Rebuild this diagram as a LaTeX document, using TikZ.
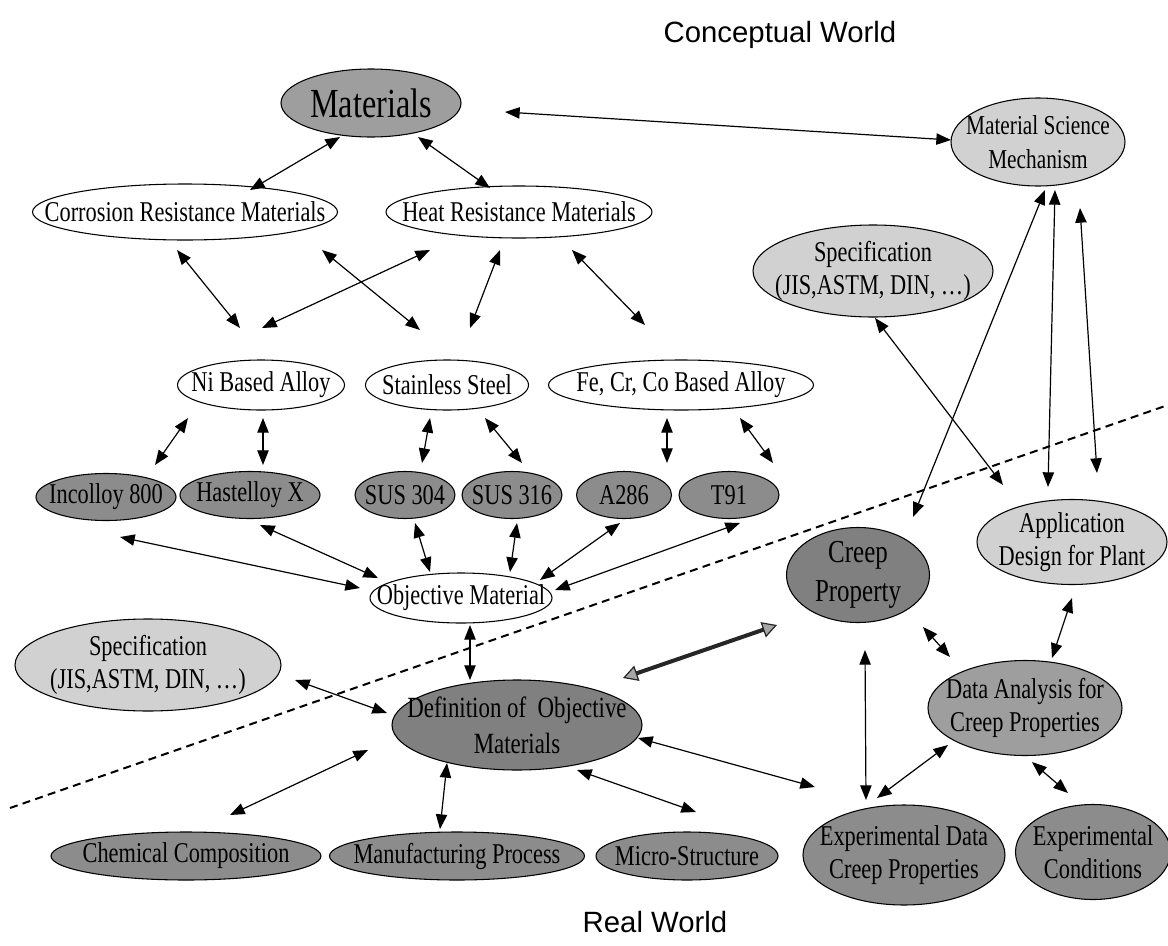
\documentclass[tikz,border=0pt]{standalone}
\usepackage{fontspec}
\setmainfont{Liberation Serif}[FakeStretch=0.78]
\newfontfamily\titlefont{Liberation Sans}
\usetikzlibrary{arrows.meta,shapes.geometric}
\definecolor{dk}{gray}{0.55}
\definecolor{md}{gray}{0.62}
\definecolor{lt}{gray}{0.82}
\definecolor{cr}{gray}{0.50}
\begin{document}
\begin{tikzpicture}[x=0.75pt,y=-0.75pt,
  ell/.style={ellipse, draw=black, line width=0.8pt, inner sep=0pt},
  wh/.style 2 args={minimum width=#1*0.75pt, minimum height=#2*0.75pt},
  lbl/.style={align=center, inner sep=0pt, font=\fontsize{21.5}{25}\selectfont},
  arr/.style={{Triangle[length=11pt,width=8.5pt]}-{Triangle[length=11pt,width=8.5pt]}, line width=0.9pt},
  tharr/.style={{Triangle[length=11pt,width=12pt,fill=black!35,line width=0.9pt]}-{Triangle[length=11pt,width=12pt,fill=black!35,line width=0.9pt]}, line width=3pt, draw=black!85},
  divider/.style={line width=1.5pt, dash pattern=on 6pt off 4pt},
  ttl/.style={font=\titlefont\fontsize{22}{26}\selectfont, inner sep=0pt}
]
\useasboundingbox (0,0) rectangle (1168,946);

% titles
\node[ttl] (cw) at (780,35) {Conceptual World};
\node[ttl] (rw) at (655,922) {Real World};

% divider
\coordinate (dA) at (10,808);
\coordinate (dB) at (1168,405);
\draw[divider] (dA) -- (dB);

% nodes
\node[ell, fill=md, wh={180}{68}, label={[lbl, font=\fontsize{31}{34}\selectfont]center:Materials}] (mat) at (371,103) {};
\node[ell, fill=lt, wh={174}{88}, label={[lbl, font=\fontsize{20.5}{25}\selectfont]center:{Material Science\\Mechanism}}] (msm) at (1038,142) {};
\node[ell, fill=white, wh={305}{56}, label={[lbl]center:Corrosion Resistance Materials}] (corr) at (185,212) {};
\node[ell, fill=white, wh={266}{52}, label={[lbl]center:Heat Resistance Materials}] (heat) at (519,212) {};
\node[ell, fill=white, wh={167}{50}, label={[lbl]center:Ni Based Alloy}] (ni) at (261,385) {};
\node[ell, fill=white, wh={163}{50}, label={[lbl]center:Stainless Steel}] (ss) at (447,385) {};
\node[ell, fill=white, wh={265}{50}, label={[lbl]center:{Fe, Cr, Co Based Alloy}}] (fe) at (681,385) {};
\node[ell, fill=dk, wh={140}{47}, label={[lbl]center:Incolloy 800}] (inc) at (106,497) {};
\node[ell, fill=dk, wh={140}{47}, label={[lbl]center:Hastelloy X}] (has) at (250,495) {};
\node[ell, fill=dk, wh={100}{47}, label={[lbl]center:SUS 304}] (s304) at (405,495) {};
\node[ell, fill=dk, wh={100}{47}, label={[lbl]center:SUS 316}] (s316) at (512,495) {};
\node[ell, fill=dk, wh={95}{47}, label={[lbl]center:A286}] (a286) at (624,495) {};
\node[ell, fill=dk, wh={100}{47}, label={[lbl]center:T91}] (t91) at (729,495) {};
\node[ell, fill=white, wh={182}{50}, label={[lbl]center:Objective Material}] (obj) at (461,598) {};
\node[ell, fill=lt, wh={266}{92}, label={[lbl]center:{Specification\\(JIS,ASTM, DIN, \dots)}}] (specL) at (148,665) {};
\node[ell, fill=lt, wh={240}{92}, label={[lbl]center:{Specification\\(JIS,ASTM, DIN, \dots)}}] (specR) at (873,271) {};
\node[ell, fill=lt, wh={190}{85}, label={[lbl]center:{Application\\Design for Plant}}] (app) at (1072,542) {};
\node[ell, fill=cr, wh={143}{95}, label={[lbl, font=\fontsize{24}{29}\selectfont]center:{Creep\\Property}}] (creep) at (858,575) {};
\node[ell, fill=md, wh={194}{95}, label={[lbl]center:{Data Analysis for\\Creep Properties}}] (data) at (1025,708) {};
\node[ell, fill=cr, wh={250}{90}, label={[lbl, font=\fontsize{22}{27}\selectfont]center:{Definition of \ Objective\\Materials}}] (defn) at (517,725) {};
\node[ell, fill=dk, wh={270}{48}, label={[lbl]center:Chemical Composition}] (chem) at (186,856) {};
\node[ell, fill=dk, wh={255}{48}, label={[lbl]center:Manufacturing Process}] (manu) at (457,856) {};
\node[ell, fill=dk, wh={182}{48}, label={[lbl]center:Micro-Structure}] (micro) at (687,856) {};
\node[ell, fill=dk, wh={202}{100}, label={[lbl]center:{Experimental Data\\Creep Properties}}] (expd) at (904,855) {};
\node[ell, fill=dk, wh={155}{95}, label={[lbl]center:{Experimental\\Conditions}}] (expc) at (1093,852) {};

% connectors
\draw[arr] ([shift={(65,-22)}]corr.center) -- ([shift={(-31,34)}]mat.center);
\draw[arr] ([shift={(47,34)}]mat.center) -- ([shift={(-29,-24)}]heat.center);
\draw[arr] ([shift={(134,9)}]mat.center) -- ([shift={(-87,-2)}]msm.center);
\draw[arr] ([shift={(-8,38)}]corr.center) -- ([shift={(-21,-57)}]ni.center);
\draw[arr] ([shift={(137,38)}]corr.center) -- ([shift={(-27,-55)}]ss.center);
\draw[arr] ([shift={(-89,38)}]heat.center) -- ([shift={(1,-57)}]ni.center);
\draw[arr] ([shift={(-19,38)}]heat.center) -- ([shift={(23,-57)}]ss.center);
\draw[arr] ([shift={(53,38)}]heat.center) -- ([shift={(-36,-60)}]fe.center);
\draw[arr] ([shift={(-73,33)}]ni.center) -- ([shift={(49,-32)}]inc.center);
\draw[arr] ([shift={(2,33)}]ni.center) -- ([shift={(13,-30)}]has.center);
\draw[arr] ([shift={(-17,33)}]ss.center) -- ([shift={(17,-32)}]s304.center);
\draw[arr] ([shift={(38,33)}]ss.center) -- ([shift={(10,-32)}]s316.center);
\draw[arr] ([shift={(-14,33)}]fe.center) -- ([shift={(43,-32)}]a286.center);
\draw[arr] ([shift={(59,33)}]fe.center) -- ([shift={(44,-32)}]t91.center);
\draw[arr] ([shift={(14,40)}]inc.center) -- ([shift={(-101,-10)}]obj.center);
\draw[arr] ([shift={(10,30)}]has.center) -- ([shift={(-83,-20)}]obj.center);
\draw[arr] ([shift={(10,28)}]s304.center) -- ([shift={(-31,-26)}]obj.center);
\draw[arr] ([shift={(5,28)}]s316.center) -- ([shift={(49,-26)}]obj.center);
\draw[arr] ([shift={(-4,28)}]a286.center) -- ([shift={(79,-18)}]obj.center);
\draw[arr] ([shift={(11,28)}]t91.center) -- ([shift={(94,-8)}]obj.center);
\draw[arr] ([shift={(9,27)}]obj.center) -- ([shift={(-47,-45)}]defn.center);
\draw[arr] ([shift={(147,15)}]specL.center) -- ([shift={(-130,-12)}]defn.center);
\draw[arr] ([shift={(-149,25)}]defn.center) -- ([shift={(44,-41)}]chem.center);
\draw[arr] ([shift={(-70,38)}]defn.center) -- ([shift={(-17,-27)}]manu.center);
\draw[arr] ([shift={(60,45)}]defn.center) -- ([shift={(9,-44)}]micro.center);
\draw[arr] ([shift={(121,13)}]defn.center) -- ([shift={(-89,-68)}]expd.center);
\draw[tharr] ([shift={(-81,50)}]creep.center) -- ([shift={(106,-47)}]defn.center);
\draw[arr] ([shift={(2,47)}]specR.center) -- ([shift={(-69,-57)}]app.center);
\draw[arr] ([shift={(7,48)}]msm.center) -- ([shift={(55,-58)}]creep.center);
\draw[arr] ([shift={(17,48)}]msm.center) -- ([shift={(-24,-55)}]app.center);
\draw[arr] ([shift={(42,66)}]msm.center) -- ([shift={(25,-69)}]app.center);
\draw[arr] ([shift={(65,52)}]creep.center) -- ([shift={(-75,-51)}]data.center);
\draw[arr] ([shift={(0,56)}]app.center) -- ([shift={(27,-50)}]data.center);
\draw[arr] ([shift={(7,75)}]creep.center) -- ([shift={(-38,-55)}]expd.center);
\draw[arr] ([shift={(-77,37)}]data.center) -- ([shift={(-27,-57)}]expd.center);
\draw[arr] ([shift={(7,54)}]data.center) -- ([shift={(-25,-59)}]expc.center);
\end{tikzpicture}
\end{document}
